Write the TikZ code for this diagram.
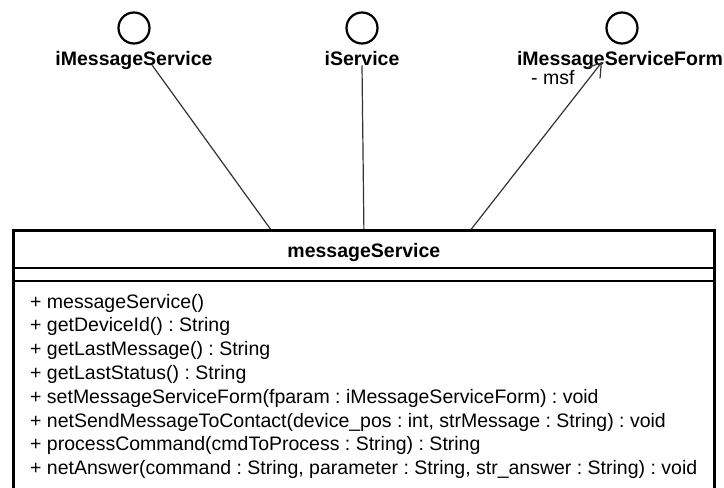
\documentclass[tikz,border=0pt]{standalone}
\usepackage{fontspec}
\setmainfont{Liberation Sans}
\usetikzlibrary{arrows.meta}
\frenchspacing

\begin{document}
\begin{tikzpicture}[x=1pt,y=-1pt,
    iface/.style={circle,draw,line width=2.2pt,minimum size=31pt,inner sep=0pt},
    ilabel/.style={anchor=base,font=\bfseries\fontsize{19.5}{23}\selectfont,inner sep=0pt},
    method/.style={anchor=base west,font=\fontsize{19.5}{23}\selectfont,inner sep=0pt},
    link/.style={line width=1.2pt,black!80}]
    \useasboundingbox (0,0) rectangle (724,488);
    \clip (0,0) rectangle (724,488);
    \fill[white] (0,0) rectangle (724,488);
    \node[iface] (ims) at (134,28) {};
    \node[iface] (is) at (362,28) {};
    \node[iface] (imsf) at (622,28) {};
    \node[ilabel] (imsl) at (134,65) {iMessageService};
    \node[ilabel] (isl) at (362,65) {iService};
    \node[ilabel] (imsfl) at (620,65) {iMessageServiceForm};
    \node[method] (msf) at (531,84) {- msf};
    \node[draw,line width=2.8pt,minimum width=701pt,minimum height=280pt,
        anchor=north west,inner sep=0pt] (cls) at (12,229) {};
    \node[ilabel] (clsname) at (cls.north |- 0,257) {messageService};
    \draw[line width=2pt] (cls.west |- 0,268) -- (cls.east |- 0,268);
    \draw[line width=2pt] (cls.west |- 0,281) -- (cls.east |- 0,281);
    \foreach \m [count=\i from 0] in {+ messageService(), + getDeviceId() : String,
        + getLastMessage() : String, + getLastStatus() : String,
        + setMessageServiceForm(fparam : iMessageServiceForm) : void,
        {+ netSendMessageToContact(device\_pos : int, strMessage : String) : void},
        + processCommand(cmdToProcess : String) : String,
        {+ netAnswer(command : String, parameter : String, str\_answer : String) : void}}
    \node[method] (m\i) at (30,308+23.8*\i) {\m};
    \draw[link] ([xshift=18pt]imsl.base) -- ([xshift=-93.5pt]cls.north);
    \draw[link] (isl.south) -- (cls.north);
    \draw[link,-{Straight Barb[length=13pt,width=17pt]}] ([xshift=107.5pt]cls.north)
        -- ([xshift=-18pt,yshift=3pt]imsfl.base);
\end{tikzpicture}
\end{document}
